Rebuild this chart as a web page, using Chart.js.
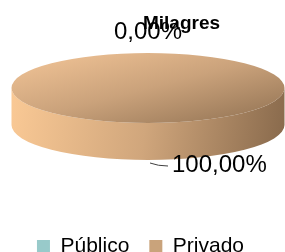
<!DOCTYPE html>
<html><head><meta charset="utf-8">
<style>html,body{margin:0;padding:0;background:#fff;overflow:hidden}canvas{display:block}</style>
<script src="https://cdn.jsdelivr.net/npm/chart.js@4/dist/chart.umd.min.js"></script>
</head><body>
<canvas id="c" width="285" height="252"></canvas>
<script>
// ---- data ----
const chartTitle = 'Milagres';
const categories = ['Público', 'Privado'];
const shares = [0, 100];
// ---- styles ----
const legendColors = ['#98CACA', '#C9A37B'];
const topStops = [
  ['#C2E6E6', '#9CCACA', '#6E9C9C'],
  ['#F4C698', '#CAA27B', '#8F7051']
];
const sideStops = [
  ['#C8EAEA', '#9ECCCC', '#6A9898'],
  ['#FAC995', '#D0A67C', '#8A6B4D']
];
const FONT = 'Arial, "Liberation Sans", sans-serif';

function fmtPct(v, total) {
  return (total ? v / total * 100 : 0).toFixed(2).replace('.', ',') + '%';
}
function pieGeom(chart) {
  const a = chart.chartArea;
  return { cx: (a.left + a.right) / 2, cy: (a.top + a.bottom) / 2,
           R: Math.min(a.right - a.left, a.bottom - a.top) / 2 };
}

const pie3d = {
  id: 'pie3d',
  beforeDraw(chart) {
    const ctx = chart.ctx;
    ctx.save(); ctx.fillStyle = '#fff'; ctx.fillRect(0, 0, chart.width, chart.height); ctx.restore();
  },
  beforeDatasetsDraw(chart, args, o) {
    const ctx = chart.ctx;
    const meta = chart.getDatasetMeta(0);
    const { cx: ex, cy: ey, rx, ry, depth } = o;
    meta.data.forEach((arc, i) => {
      const s = arc.startAngle, e = arc.endAngle;
      if (!(e - s > 0)) return;
      const st = sideStops[i];
      for (let k = -1; k <= 1; k++) {
        const a0 = Math.max(s, 2 * Math.PI * k), a1 = Math.min(e, 2 * Math.PI * k + Math.PI);
        if (a1 <= a0) continue;
        const g = ctx.createLinearGradient(ex - rx, ey, ex + rx, ey + depth);
        g.addColorStop(0, st[0]); g.addColorStop(0.5, st[1]); g.addColorStop(1, st[2]);
        ctx.beginPath();
        ctx.ellipse(ex, ey, rx, ry, 0, a0, a1, false);
        ctx.ellipse(ex, ey + depth, rx, ry, 0, a1, a0, true);
        ctx.closePath();
        ctx.fillStyle = g;
        ctx.fill();
      }
    });
    const g = pieGeom(chart);
    ctx.save();
    ctx.translate(ex, ey);
    ctx.scale(rx / g.R, ry / g.R);
    ctx.translate(-g.cx, -g.cy);
  },
  afterDatasetsDraw(chart, args, o) {
    const ctx = chart.ctx;
    ctx.restore();
    const meta = chart.getDatasetMeta(0);
    const data = chart.data.datasets[0].data;
    const total = data.reduce((a, b) => a + b, 0);
    const { cx: ex, cy: ey, rx, ry, depth } = o;
    ctx.save();
    meta.data.forEach((arc, i) => {
      const mid = (arc.startAngle + arc.endAngle) / 2;
      const sn = Math.sin(mid);
      const ax = ex + rx * Math.cos(mid);
      const ay = ey + ry * sn + (sn > 0.01 ? depth : 0);
      const lo = o.labels[i];
      if (lo.leader) {
        ctx.strokeStyle = '#404040'; ctx.lineWidth = 1;
        ctx.beginPath();
        ctx.moveTo(ax + 2, ay + 3);
        ctx.quadraticCurveTo(ax + 10, ay + 6, ax + lo.dx - 4, ay + lo.dy + 1);
        ctx.stroke();
      }
      ctx.fillStyle = '#000';
      ctx.font = '24px ' + FONT;
      ctx.textAlign = lo.align;
      ctx.textBaseline = lo.baseline;
      ctx.fillText(fmtPct(data[i], total), ax + lo.dx, ay + lo.dy);
    });
    // title
    ctx.font = 'bold 19px ' + FONT;
    ctx.textAlign = 'center';
    ctx.textBaseline = 'alphabetic';
    ctx.fillText(chartTitle, o.titleX, o.titleY);
    ctx.restore();
  }
};

new Chart(document.getElementById('c'), {
  type: 'pie',
  data: {
    labels: categories,
    datasets: [{
      data: shares,
      borderWidth: 0,
      clip: false,
      backgroundColor(c) {
        const chart = c.chart;
        if (!chart.chartArea) return legendColors[c.dataIndex];
        const g0 = pieGeom(chart);
        const st = topStops[c.dataIndex];
        const g = chart.ctx.createLinearGradient(g0.cx - g0.R, g0.cy - g0.R, g0.cx + g0.R, g0.cy + g0.R);
        g.addColorStop(0, st[0]); g.addColorStop(0.5, st[1]); g.addColorStop(1, st[2]);
        return g;
      }
    }]
  },
  options: {
    responsive: false,
    devicePixelRatio: 1,
    animation: false,
    events: [],
    rotation: 0,
    layout: { padding: { left: 0, right: 4, top: 0, bottom: -15 } },
    plugins: {
      tooltip: { enabled: false },
      title: { display: false },
      legend: {
        position: 'bottom',
        labels: {
          boxWidth: 13, boxHeight: 13, padding: 20, color: '#000',
          font: { family: FONT, size: 21 },
          generateLabels(chart) {
            const items = Chart.overrides.pie.plugins.legend.labels.generateLabels(chart);
            return items.map((it, i) => Object.assign(it, {
              fillStyle: legendColors[i], strokeStyle: legendColors[i], lineWidth: 0, hidden: false, fontColor: '#000'
            }));
          }
        }
      },
      pie3d: {
        cx: 148, cy: 88, rx: 136.5, ry: 35, depth: 37,
        titleX: 181.5, titleY: 29,
        labels: [
          { dx: 0, dy: -14, align: 'center', baseline: 'alphabetic' },
          { dx: 24, dy: 5, align: 'left', baseline: 'middle', leader: true }
        ]
      }
    }
  },
  plugins: [pie3d]
});
</script>
</body></html>
